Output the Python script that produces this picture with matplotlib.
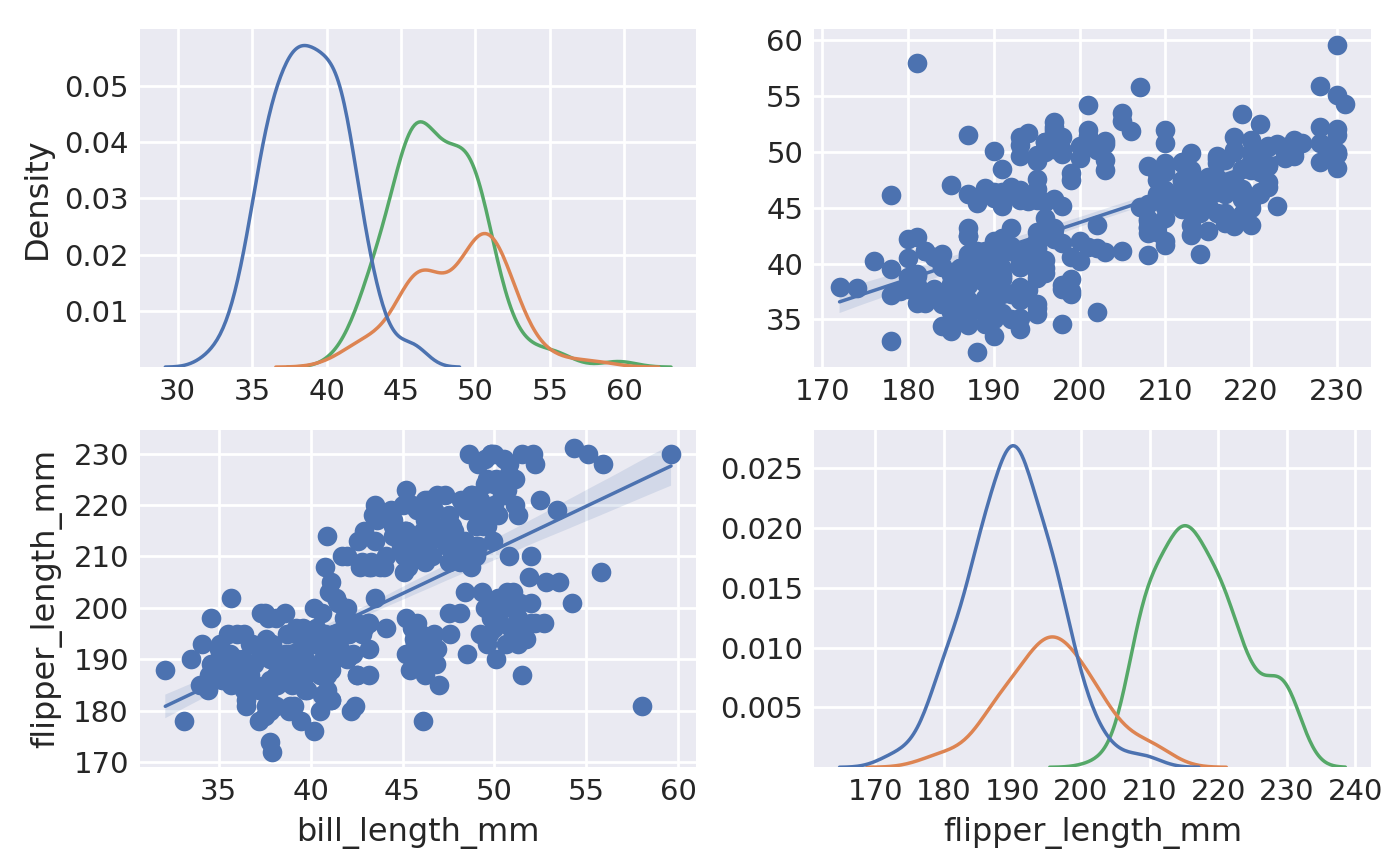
import numpy as np
import pandas as pd
import matplotlib
matplotlib.use('Agg')
import matplotlib.pyplot as plt
import seaborn as sns

# penguins: bill_length_mm / flipper_length_mm by species
adelie_bill = [39.1, 39.5, 40.3, 36.7, 39.3, 38.9, 39.2, 34.1, 42.0, 37.8,
               37.8, 41.1, 38.6, 34.6, 36.6, 38.7, 42.5, 34.4, 46.0, 37.8,
               37.7, 35.9, 38.2, 38.8, 35.3, 40.6, 40.5, 37.9, 40.5, 39.5,
               37.2, 39.5, 40.9, 36.4, 39.2, 38.8, 42.2, 37.6, 39.8, 36.5,
               40.8, 36.0, 44.1, 37.0, 39.6, 41.1, 37.5, 36.0, 42.3, 39.6,
               40.1, 35.0, 42.0, 34.5, 41.4, 39.0, 40.6, 36.5, 37.6, 35.7,
               41.3, 37.6, 41.1, 36.4, 41.6, 35.5, 41.1, 35.9, 41.8, 33.5,
               39.7, 39.6, 45.8, 35.5, 42.8, 40.9, 37.2, 36.2, 42.1, 34.6,
               42.9, 36.7, 35.1, 37.3, 41.3, 36.3, 36.9, 38.3, 38.9, 35.7,
               41.1, 34.0, 39.6, 36.2, 40.8, 38.1, 40.3, 33.1, 43.2, 35.0,
               41.0, 37.7, 37.8, 37.9, 39.7, 38.6, 38.2, 38.1, 43.2, 38.1,
               45.6, 39.7, 42.2, 39.6, 42.7, 38.6, 37.3, 35.7, 41.1, 36.2,
               37.7, 40.2, 41.4, 35.2, 40.6, 38.8, 41.5, 39.0, 44.1, 38.5,
               43.1, 36.8, 37.5, 38.1, 41.1, 35.6, 40.2, 37.0, 39.7, 40.2,
               40.6, 32.1, 40.7, 37.3, 39.0, 39.2, 36.6, 36.0, 37.8, 36.0,
               41.5]
adelie_flipper = [181, 186, 195, 193, 190, 181, 195, 193, 190, 186,
                  180, 182, 191, 198, 185, 195, 197, 184, 194, 174,
                  180, 189, 185, 180, 187, 183, 187, 172, 180, 178,
                  178, 188, 184, 195, 196, 190, 180, 181, 184, 182,
                  195, 186, 196, 185, 190, 182, 179, 190, 191, 186,
                  188, 190, 200, 187, 191, 186, 193, 181, 194, 185,
                  195, 185, 192, 184, 192, 195, 188, 190, 198, 190,
                  190, 196, 197, 190, 195, 191, 184, 187, 195, 189,
                  196, 187, 193, 191, 194, 190, 189, 189, 190, 202,
                  205, 185, 186, 187, 208, 190, 196, 178, 192, 192,
                  203, 183, 190, 193, 184, 199, 190, 181, 197, 198,
                  191, 193, 197, 191, 196, 188, 199, 189, 189, 187,
                  198, 176, 202, 186, 199, 191, 195, 191, 210, 190,
                  197, 193, 199, 187, 190, 191, 200, 185, 193, 193,
                  187, 188, 190, 192, 185, 190, 184, 195, 193, 187,
                  201]

chinstrap_bill = [46.5, 50.0, 51.3, 45.4, 52.7, 45.2, 46.1, 51.3, 46.0, 51.3,
                  46.6, 51.7, 47.0, 52.0, 45.9, 50.5, 50.3, 58.0, 46.4, 49.2,
                  42.4, 48.5, 43.2, 50.6, 46.7, 52.0, 50.5, 49.5, 46.4, 52.8,
                  40.9, 54.2, 42.5, 51.0, 49.7, 47.5, 47.6, 52.0, 46.9, 53.5,
                  49.0, 46.2, 50.9, 45.5, 50.9, 50.8, 50.1, 49.0, 51.5, 49.8,
                  48.1, 51.4, 45.7, 50.7, 42.5, 52.2, 45.2, 49.3, 50.2, 45.6,
                  51.9, 46.8, 45.7, 55.8, 43.5, 49.6, 50.8, 50.2]
chinstrap_flipper = [192, 196, 193, 188, 197, 198, 178, 197, 195, 198,
                     193, 194, 185, 201, 190, 201, 197, 181, 190, 195,
                     181, 191, 187, 193, 195, 197, 200, 200, 191, 205,
                     187, 201, 187, 203, 195, 199, 195, 210, 192, 205,
                     210, 187, 196, 196, 196, 201, 190, 212, 187, 198,
                     199, 201, 193, 203, 187, 197, 191, 203, 202, 194,
                     206, 189, 195, 207, 202, 193, 210, 198]

gentoo_bill = [46.1, 50.0, 48.7, 50.0, 47.6, 46.5, 45.4, 46.7, 43.3, 46.8,
               40.9, 49.0, 45.5, 48.4, 45.8, 49.3, 42.0, 49.2, 46.2, 48.7,
               50.2, 45.1, 46.5, 46.3, 42.9, 46.1, 44.5, 47.8, 48.2, 50.0,
               47.3, 42.8, 45.1, 59.6, 49.1, 48.4, 42.6, 44.4, 44.0, 48.7,
               42.7, 49.6, 45.3, 49.6, 50.5, 43.6, 45.5, 50.5, 44.9, 45.2,
               46.6, 48.5, 45.1, 50.1, 46.5, 45.0, 43.8, 45.5, 43.2, 50.4,
               45.3, 46.2, 45.7, 54.3, 45.8, 49.8, 46.2, 49.5, 43.5, 50.7,
               47.7, 46.4, 48.2, 46.5, 46.4, 48.6, 47.5, 51.1, 45.2, 45.2,
               49.1, 52.5, 47.4, 50.0, 44.9, 50.8, 43.4, 51.3, 47.5, 52.1,
               47.5, 52.2, 45.5, 49.5, 44.5, 50.8, 49.4, 46.9, 48.4, 51.1,
               48.5, 55.9, 47.2, 49.1, 47.3, 46.8, 41.7, 53.4, 43.3, 48.1,
               50.5, 49.8, 43.5, 51.5, 46.2, 55.1, 44.5, 48.8, 47.2, 46.8,
               50.4, 45.2, 49.9]
gentoo_flipper = [211, 230, 210, 218, 215, 210, 211, 219, 209, 215,
                  214, 216, 214, 213, 210, 217, 210, 221, 209, 222,
                  218, 215, 213, 215, 215, 215, 216, 215, 210, 220,
                  222, 209, 207, 230, 220, 220, 213, 219, 208, 208,
                  208, 225, 210, 216, 222, 217, 210, 225, 213, 215,
                  210, 220, 210, 225, 217, 220, 208, 220, 208, 224,
                  208, 221, 214, 231, 219, 230, 214, 229, 220, 223,
                  216, 221, 221, 217, 216, 230, 209, 220, 215, 223,
                  212, 221, 212, 224, 212, 228, 218, 218, 212, 230,
                  218, 228, 212, 224, 214, 226, 216, 222, 203, 225,
                  219, 228, 215, 228, 216, 215, 210, 219, 208, 209,
                  229, 230, 213, 230, 217, 230, 217, 222, 214, 215,
                  222, 212, 213]

species_names = ['Adelie', 'Chinstrap', 'Gentoo']
species_colors = ['#4c72b0', '#dd8452', '#55a868']

df = pd.DataFrame({
    'species': ['Adelie'] * len(adelie_bill) + ['Chinstrap'] * len(chinstrap_bill)
               + ['Gentoo'] * len(gentoo_bill),
    'bill_length_mm': adelie_bill + chinstrap_bill + gentoo_bill,
    'flipper_length_mm': adelie_flipper + chinstrap_flipper + gentoo_flipper,
})

plt.style.use('seaborn-v0_8')
plt.rcParams['font.family'] = ['DejaVu Sans']
plt.rcParams['xtick.labelsize'] = 10.5
plt.rcParams['ytick.labelsize'] = 10.5
plt.rcParams['axes.labelsize'] = 11.5
plt.rcParams['grid.linewidth'] = 1.0
plt.rcParams['xtick.major.pad'] = 4
plt.rcParams['ytick.major.pad'] = 4

fig, axes = plt.subplots(2, 2, figsize=(7, 4.33), dpi=200)
pal = dict(zip(species_names, species_colors))
lw = 1.25
dot = 50

# diagonal: kde by species
ax = axes[0, 0]
sns.kdeplot(data=df, x='bill_length_mm', hue='species', hue_order=species_names,
            palette=pal, legend=False, ax=ax, linewidth=lw)
ax.set_ylim(0, None)
ax.set_yticks([0.01, 0.02, 0.03, 0.04, 0.05])
ax.set_xticks([30, 35, 40, 45, 50, 55, 60])
ax.set_xlabel('')
ax.set_ylabel('Density')

ax = axes[1, 1]
sns.kdeplot(data=df, x='flipper_length_mm', hue='species', hue_order=species_names,
            palette=pal, legend=False, ax=ax, linewidth=lw)
ax.set_ylim(0, None)
ax.set_yticks([0.005, 0.010, 0.015, 0.020, 0.025])
ax.set_xticks(np.arange(170, 241, 10))
ax.set_xlabel('flipper_length_mm')
ax.set_ylabel('')

# off-diagonal: scatter + regression
ax = axes[0, 1]
sns.regplot(data=df, x='flipper_length_mm', y='bill_length_mm', ax=ax,
            color=species_colors[0],
            scatter_kws={'alpha': 1, 'zorder': 3, 'linewidths': 0, 's': dot},
            line_kws={'linewidth': lw})
ax.set_xticks(np.arange(170, 231, 10))
ax.set_yticks([35, 40, 45, 50, 55, 60])
ax.set_xlabel('')
ax.set_ylabel('')

ax = axes[1, 0]
sns.regplot(data=df, x='bill_length_mm', y='flipper_length_mm', ax=ax,
            color=species_colors[0],
            scatter_kws={'alpha': 1, 'linewidths': 0, 's': dot},
            line_kws={'linewidth': lw})
ax.set_xticks([35, 40, 45, 50, 55, 60])
ax.set_yticks(np.arange(170, 231, 10))
ax.set_xlabel('bill_length_mm')
ax.set_ylabel('flipper_length_mm')

plt.subplots_adjust(left=0.100, right=0.979, top=0.966, bottom=0.114,
                    wspace=0.212, hspace=0.185)
plt.savefig('out.png', dpi=200)
